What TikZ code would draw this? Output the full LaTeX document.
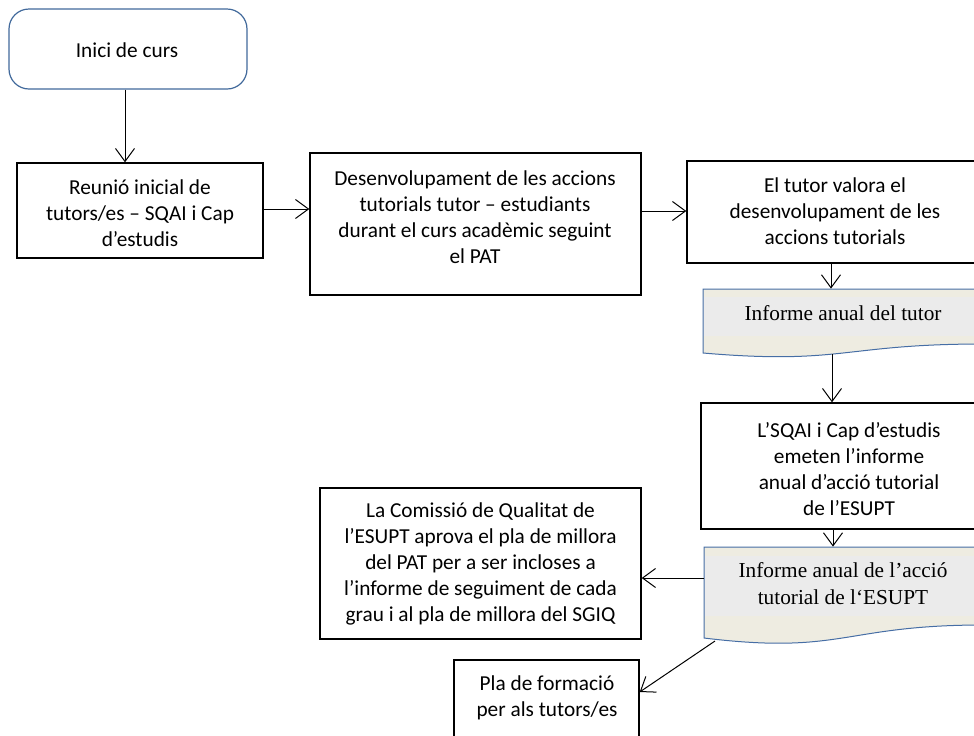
\documentclass[tikz,border=0pt]{standalone}
\usepackage{fontspec}
\setmainfont{Carlito}
\newfontfamily\docfont{Liberation Serif}
\usetikzlibrary{arrows.meta,fit}
\definecolor{docbeige}{RGB}{238,236,225}
\definecolor{docgray}{RGB}{235,235,235}
\definecolor{docline}{RGB}{70,110,165}
\definecolor{startline}{RGB}{65,105,155}
\tikzset{
  boxframe/.style={draw=black, line width=0.7pt, inner sep=0pt},
  startframe/.style={draw=startline, line width=0.6pt, rounded corners=10pt, inner sep=0pt},
  ghost/.style={inner sep=0pt},
  txt/.style={align=center, inner sep=0pt, font=\fontsize{10.65}{13}\selectfont},
  doctxt/.style={align=center, inner sep=0pt, font=\docfont\fontsize{10.65}{13.5}\selectfont},
  docborder/.style={draw=docline, line width=0.5pt},
  arr/.style={draw=black, line width=0.5pt, -{Straight Barb[length=6.5pt,width=9.5pt]}}
}
\begin{document}
\begin{tikzpicture}[x=0.5pt,y=-0.5pt]
\useasboundingbox (0,0) rectangle (974,735);
\clip (0,0) rectangle (974,735);

% boxes
\node[startframe, fit={(9,9) (247,89)}] (inici) {};
\node[boxframe, fit={(17,163) (263,258)}] (reunio) {};
\node[boxframe, fit={(310,153) (641,295)}] (desenv) {};
\node[boxframe, fit={(687,161) (983,263)}] (tutor) {};
\node[boxframe, fit={(701,403) (997,529)}] (sqai) {};
\node[boxframe, fit={(320,488) (641,639)}] (comm) {};
\node[boxframe, fit={(454,660) (639,737)}] (pla) {};

% document shapes
\begin{scope}
  \clip (703,289) -- (983,289) -- (983,344) .. controls (843,344) and (843,365) .. (703,353) -- cycle;
  \fill[docbeige] (690,280) rectangle (990,380);
  \fill[docgray] (690,297) rectangle (990,336);
\end{scope}
\draw[docborder] (703,289) -- (983,289) -- (983,344) .. controls (843,344) and (843,365) .. (703,353) -- cycle;
\node[ghost, fit={(703,289) (983,353)}] (doc1) {};

\begin{scope}
  \clip (704,547) -- (983,547) -- (983,625) .. controls (843,625) and (843,655) .. (704,638) -- cycle;
  \fill[docbeige] (690,540) rectangle (990,670);
  \fill[docgray] (690,556) rectangle (990,616);
\end{scope}
\draw[docborder] (704,547) -- (983,547) -- (983,625) .. controls (843,625) and (843,655) .. (704,638) -- cycle;
\node[ghost, fit={(704,547) (983,638)}] (doc2) {};

% texts
\node[txt] (iniciT) at (127,50) {Inici de curs};
\node[txt] (reunioT) at (140,213) {Reunió inicial de\\tutors/es – SQAI i Cap\\d’estudis};
\node[txt] (desenvT) at (475,217) {Desenvolupament de les accions\\tutorials tutor – estudiants\\durant el curs acadèmic seguint\\el PAT};
\node[txt] (tutorT) at (835,211) {El tutor valora el\\desenvolupament de les\\accions tutorials};
\node[doctxt] (doc1T) at (843,313) {Informe anual del tutor};
\node[txt] (sqaiT) at (849,469) {L’SQAI i Cap d’estudis\\emeten l’informe\\anual d’acció tutorial\\de l’ESUPT};
\node[doctxt] (doc2T) at (843,583.5) {Informe anual de l’acció\\tutorial de l‘ESUPT};
\node[txt] (commT) at (480.5,564) {La Comissió de Qualitat de\\l’ESUPT aprova el pla de millora\\del PAT per a ser incloses a\\l’informe de seguiment de cada\\grau i al pla de millora del SGIQ};
\node[txt] (plaT) at (547,697.5) {Pla de formació\\per als tutors/es};

% connectors
\coordinate (a1) at (125,0);
\draw[arr] (inici.south -| a1) -- (reunio.north -| a1);
\coordinate (a2) at (0,209);
\draw[arr] (reunio.east |- a2) -- (desenv.west |- a2);
\coordinate (a3) at (0,211);
\draw[arr] (desenv.east |- a3) -- (tutor.west |- a3);
\coordinate (a4) at (831,0);
\draw[arr] (tutor.south -| a4) -- (doc1.north -| a4);
\coordinate (d1b) at (832,354);
\draw[arr] (d1b) -- (sqai.north -| d1b);
\coordinate (a6) at (833,0);
\draw[arr] (sqai.south -| a6) -- (doc2.north -| a6);
\coordinate (d2l) at (704,578);
\draw[arr] (d2l) -- (comm.east |- d2l);
\coordinate (d2b) at (715,641);
\coordinate (a8) at (0,692);
\draw[arr] (d2b) -- (pla.east |- a8);
\end{tikzpicture}
\end{document}
